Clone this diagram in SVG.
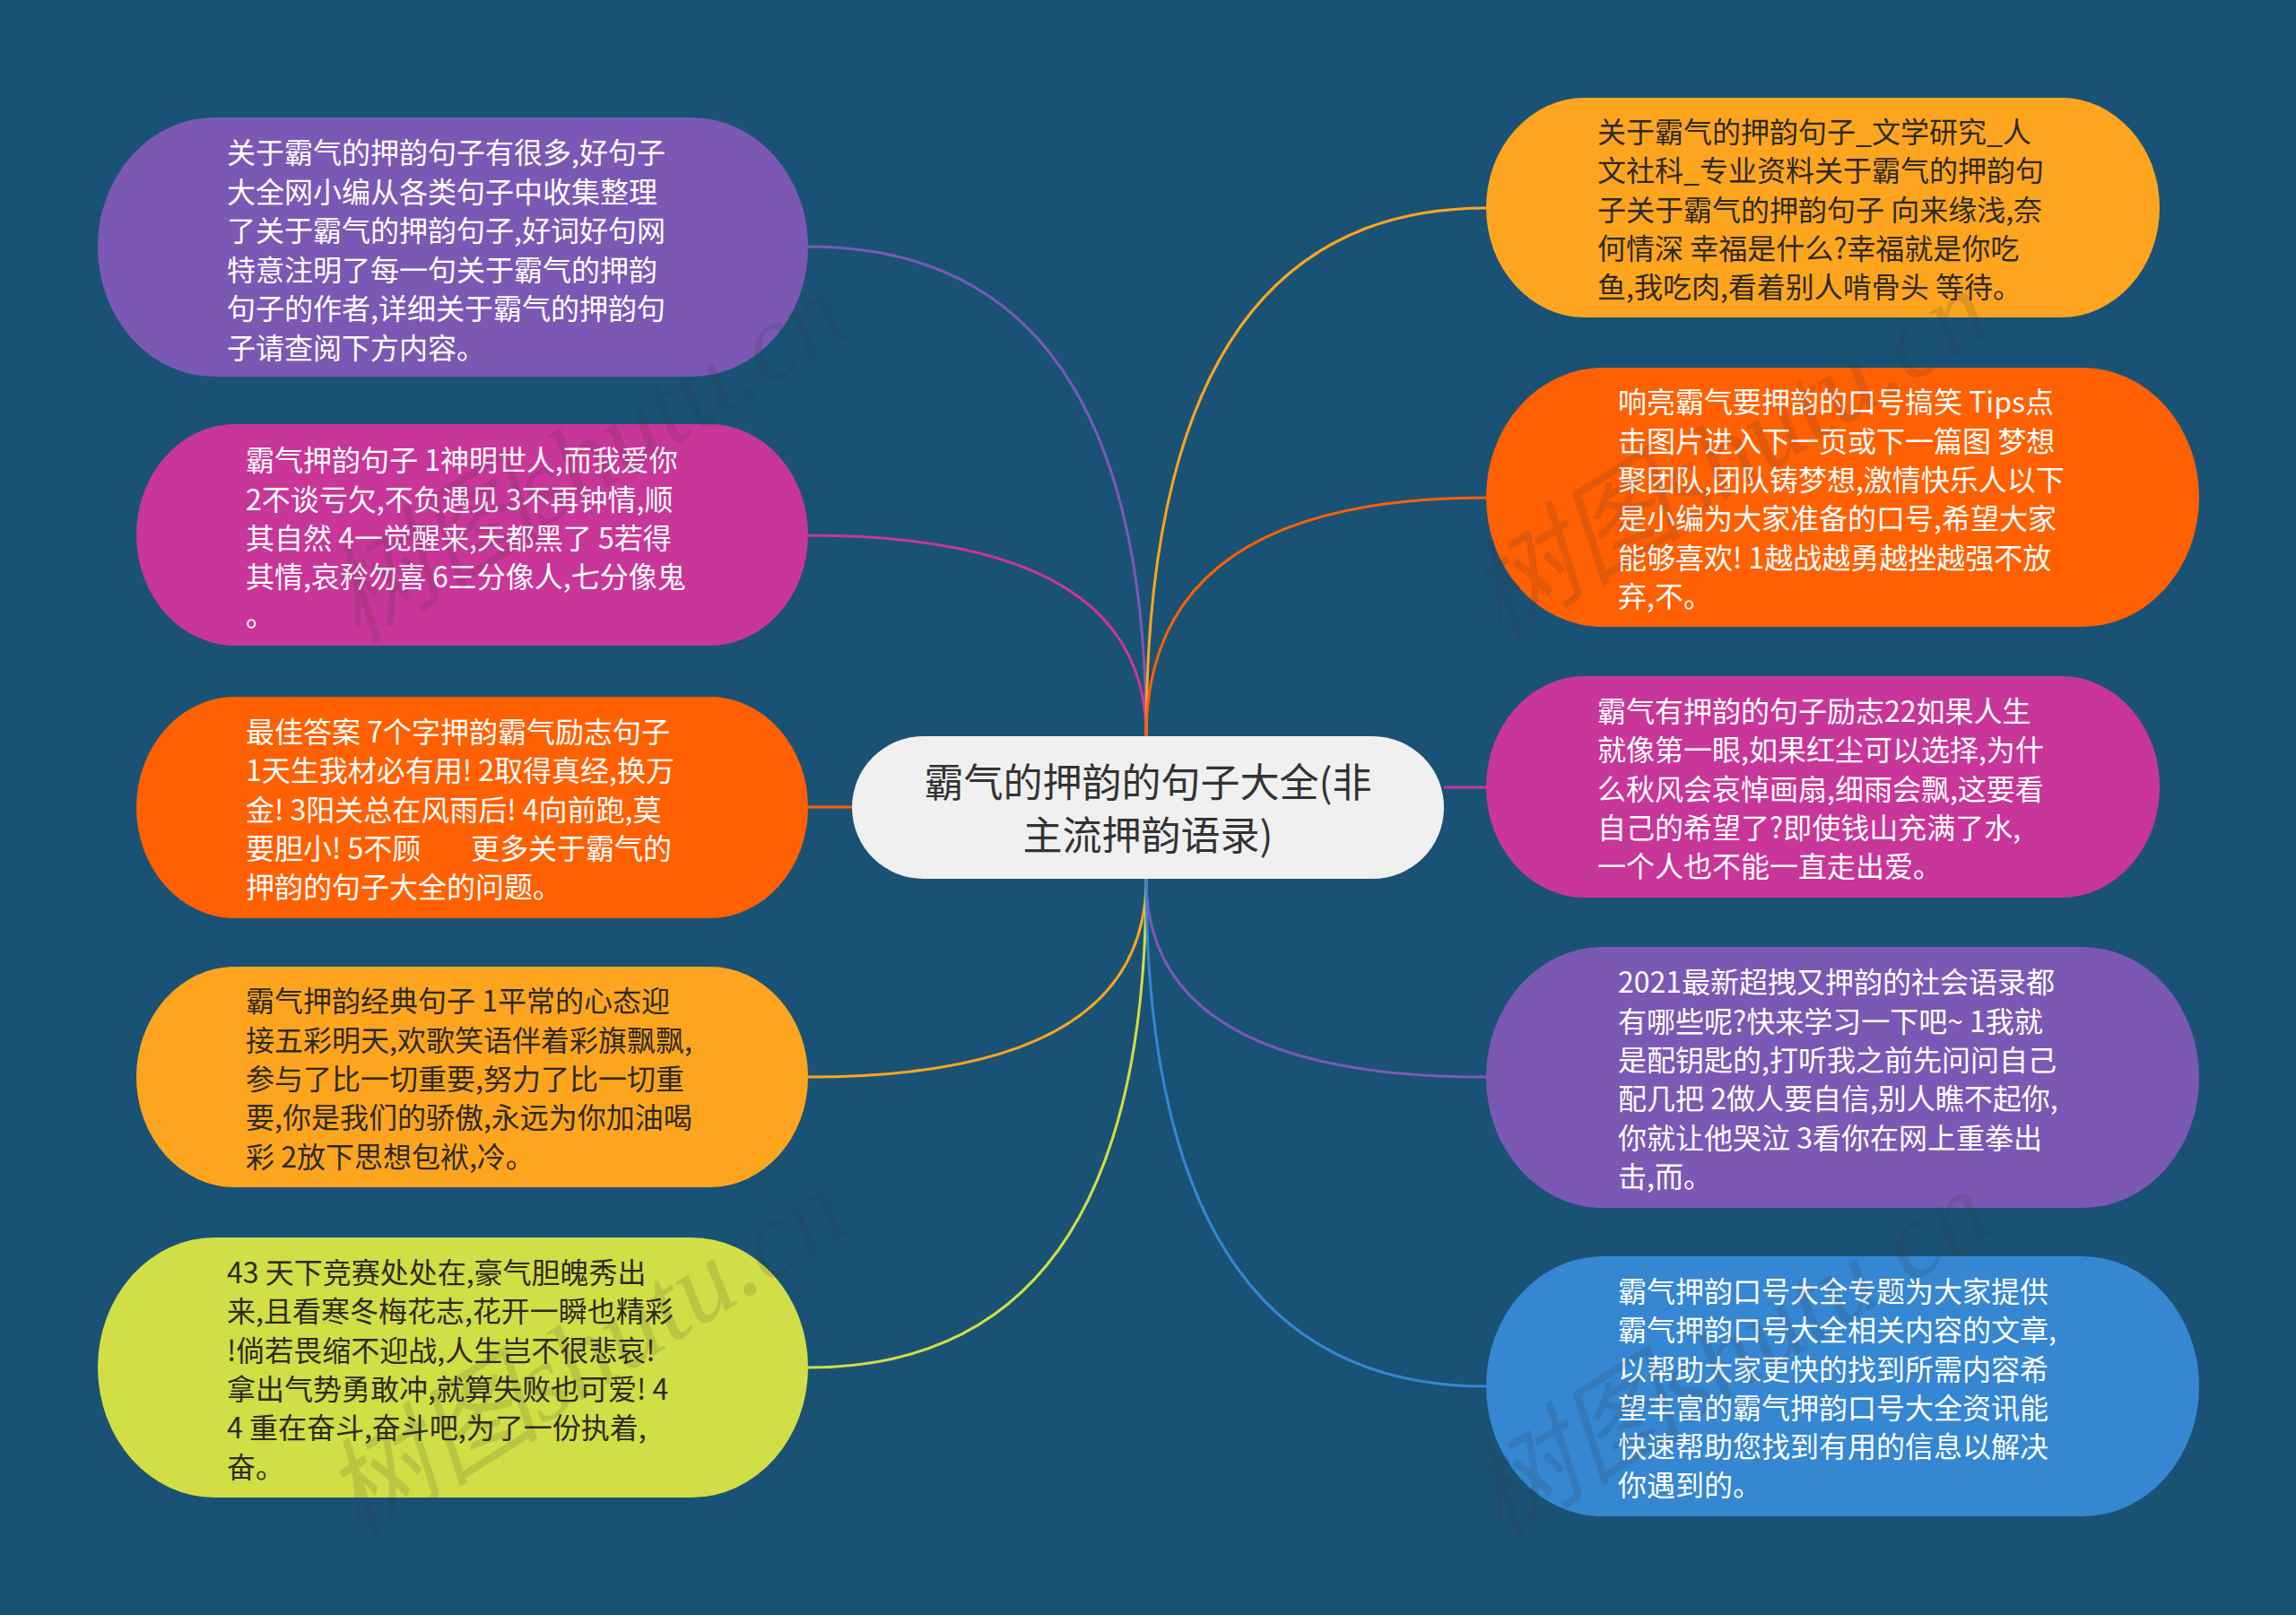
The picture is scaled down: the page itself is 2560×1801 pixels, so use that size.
<svg xmlns="http://www.w3.org/2000/svg" width="2560" height="1801" viewBox="0 0 2560 1801">
<style>
.t{font-family:"Noto Sans CJK SC","Noto Sans",sans-serif;font-size:32px;dominant-baseline:central}
.w{fill:#ffffff}
.d{fill:#2e2a22}
.c{font-family:"Noto Sans CJK SC","Noto Sans",sans-serif;font-size:44px;fill:#333333;text-anchor:middle;dominant-baseline:central}
.e{fill:none;stroke-width:3}
.wm{font-family:"Liberation Serif","Noto Sans CJK SC",serif;font-size:122px;font-style:italic;fill:#333;opacity:0.14;text-anchor:middle;dominant-baseline:central}
</style>
<rect x="0" y="0" width="2560" height="1801" fill="#1a5276"/>
<g id="connectors">
<path class="e" stroke="#7c58b5" d="M1278,821 Q1278,275 901,275"/>
<path class="e" stroke="#c93699" d="M1278,821 Q1278,597 901,597"/>
<path class="e" stroke="#ff6002" d="M950,900 L901,900"/>
<path class="e" stroke="#fda51f" d="M1278,980 Q1278,1201 901,1201"/>
<path class="e" stroke="#d1de45" d="M1278,980 Q1278,1525 901,1525"/>
<path class="e" stroke="#fda51f" d="M1278,821 Q1278,232 1657,232"/>
<path class="e" stroke="#ff6002" d="M1278,821 Q1278,555 1657,555"/>
<path class="e" stroke="#c93699" d="M1610,878 L1657,878"/>
<path class="e" stroke="#7c58b5" d="M1278,980 Q1278,1201 1657,1201"/>
<path class="e" stroke="#3587d2" d="M1278,980 Q1278,1546 1657,1546"/>
</g>
<g id="center">
<rect x="950" y="821" width="660" height="159" rx="79.5" ry="79.5" fill="#f0f0f0"/>
<text class="c" x="1280"><tspan x="1280" y="870">霸气的押韵的句子大全(非</tspan><tspan x="1280" y="929">主流押韵语录)</tspan></text>
</g>
<g id="left1">
<rect x="109" y="131" width="792" height="289" rx="130" ry="144.5" fill="#7c58b5"/>
<text class="t w"><tspan x="253" y="168">关于霸气的押韵句子有很多,好句子</tspan><tspan x="253" y="211.5">大全网小编从各类句子中收集整理</tspan><tspan x="253" y="255">了关于霸气的押韵句子,好词好句网</tspan><tspan x="253" y="298.5">特意注明了每一句关于霸气的押韵</tspan><tspan x="253" y="342">句子的作者,详细关于霸气的押韵句</tspan><tspan x="253" y="385.5">子请查阅下方内容。</tspan></text>
</g>
<g id="left2">
<rect x="152" y="473" width="749" height="247" rx="110" ry="123.5" fill="#c93699"/>
<text class="t w"><tspan x="274" y="511">霸气押韵句子 1神明世人,而我爱你</tspan><tspan x="274" y="554.5">2不谈亏欠,不负遇见 3不再钟情,顺</tspan><tspan x="274" y="598">其自然 4一觉醒来,天都黑了 5若得</tspan><tspan x="274" y="641">其情,哀矜勿喜 6三分像人,七分像鬼</tspan><tspan x="274" y="684">。</tspan></text>
</g>
<g id="left3">
<rect x="152" y="777" width="749" height="247" rx="110" ry="123.5" fill="#ff6002"/>
<text class="t w"><tspan x="274" y="814">最佳答案 7个字押韵霸气励志句子</tspan><tspan x="274" y="857">1天生我材必有用! 2取得真经,换万</tspan><tspan x="274" y="900.5">金! 3阳关总在风雨后! 4向前跑,莫</tspan><tspan x="274" y="944">要胆小! 5不顾</tspan><tspan x="525" y="944">更多关于霸气的</tspan><tspan x="274" y="987">押韵的句子大全的问题。</tspan></text>
</g>
<g id="left4">
<rect x="152" y="1078" width="749" height="246" rx="110" ry="123" fill="#fda51f"/>
<text class="t d"><tspan x="274" y="1114">霸气押韵经典句子 1平常的心态迎</tspan><tspan x="274" y="1158">接五彩明天,欢歌笑语伴着彩旗飘飘,</tspan><tspan x="274" y="1201">参与了比一切重要,努力了比一切重</tspan><tspan x="274" y="1244">要,你是我们的骄傲,永远为你加油喝</tspan><tspan x="274" y="1288">彩 2放下思想包袱,冷。</tspan></text>
</g>
<g id="left5">
<rect x="109" y="1380" width="792" height="290" rx="130" ry="145" fill="#d1de45"/>
<text class="t d"><tspan x="253" y="1417">43 天下竞赛处处在,豪气胆魄秀出</tspan><tspan x="253" y="1460">来,且看寒冬梅花志,花开一瞬也精彩</tspan><tspan x="253" y="1503.5">!倘若畏缩不迎战,人生岂不很悲哀!</tspan><tspan x="253" y="1547">拿出气势勇敢冲,就算失败也可爱! 4</tspan><tspan x="253" y="1590">4 重在奋斗,奋斗吧,为了一份执着,</tspan><tspan x="253" y="1633.5">奋。</tspan></text>
</g>
<g id="right1">
<rect x="1657" y="109" width="751" height="245" rx="110" ry="122.5" fill="#fda51f"/>
<text class="t d"><tspan x="1781" y="145">关于霸气的押韵句子_文学研究_人</tspan><tspan x="1781" y="188">文社科_专业资料关于霸气的押韵句</tspan><tspan x="1781" y="231.5">子关于霸气的押韵句子 向来缘浅,奈</tspan><tspan x="1781" y="275">何情深 幸福是什么?幸福就是你吃</tspan><tspan x="1781" y="318">鱼,我吃肉,看着别人啃骨头 等待。</tspan></text>
</g>
<g id="right2">
<rect x="1657" y="410" width="795" height="289" rx="130" ry="144.5" fill="#ff6002"/>
<text class="t w"><tspan x="1804" y="446">响亮霸气要押韵的口号搞笑 Tips点</tspan><tspan x="1804" y="489.5">击图片进入下一页或下一篇图 梦想</tspan><tspan x="1804" y="533">聚团队,团队铸梦想,激情快乐人以下</tspan><tspan x="1804" y="576">是小编为大家准备的口号,希望大家</tspan><tspan x="1804" y="619.5">能够喜欢! 1越战越勇越挫越强不放</tspan><tspan x="1804" y="663">弃,不。</tspan></text>
</g>
<g id="right3">
<rect x="1657" y="754" width="751" height="247" rx="110" ry="123.5" fill="#c93699"/>
<text class="t w"><tspan x="1781" y="791">霸气有押韵的句子励志22如果人生</tspan><tspan x="1781" y="834">就像第一眼,如果红尘可以选择,为什</tspan><tspan x="1781" y="877.5">么秋风会哀悼画扇,细雨会飘,这要看</tspan><tspan x="1781" y="921">自己的希望了?即使钱山充满了水,</tspan><tspan x="1781" y="964">一个人也不能一直走出爱。</tspan></text>
</g>
<g id="right4">
<rect x="1657" y="1056" width="795" height="291" rx="130" ry="145.5" fill="#7c58b5"/>
<text class="t w"><tspan x="1804" y="1093">2021最新超拽又押韵的社会语录都</tspan><tspan x="1804" y="1136.5">有哪些呢?快来学习一下吧~ 1我就</tspan><tspan x="1804" y="1180">是配钥匙的,打听我之前先问问自己</tspan><tspan x="1804" y="1223">配几把 2做人要自信,别人瞧不起你,</tspan><tspan x="1804" y="1266.5">你就让他哭泣 3看你在网上重拳出</tspan><tspan x="1804" y="1310">击,而。</tspan></text>
</g>
<g id="right5">
<rect x="1657" y="1401" width="795" height="290" rx="130" ry="145" fill="#3587d2"/>
<text class="t w"><tspan x="1804" y="1438">霸气押韵口号大全专题为大家提供</tspan><tspan x="1804" y="1481">霸气押韵口号大全相关内容的文章,</tspan><tspan x="1804" y="1524.5">以帮助大家更快的找到所需内容希</tspan><tspan x="1804" y="1568">望丰富的霸气押韵口号大全资讯能</tspan><tspan x="1804" y="1611">快速帮助您找到有用的信息以解决</tspan><tspan x="1804" y="1654">你遇到的。</tspan></text>
</g>
<g id="watermarks">
<text class="wm" transform="translate(653,510) rotate(-32)">树图shutu.cn</text>
<text class="wm" transform="translate(1927,506) rotate(-32)">树图shutu.cn</text>
<text class="wm" transform="translate(653,1510) rotate(-32)">树图shutu.cn</text>
<text class="wm" transform="translate(1927,1510) rotate(-32)">树图shutu.cn</text>
</g>
</svg>
